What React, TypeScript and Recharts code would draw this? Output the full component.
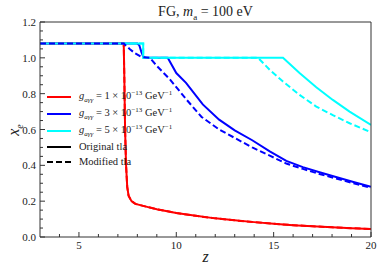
import React from "react";
import { LineChart, Line, XAxis, YAxis } from "recharts";

// values
const redZ = [3, 7.3, 7.33, 7.37, 7.42, 7.48, 7.55, 7.7, 7.9, 8.5, 9, 10, 11, 12, 13, 14, 15, 16, 17, 18, 19, 20];
const redXe = [1.08, 1.08, 0.9, 0.6, 0.4, 0.28, 0.23, 0.2, 0.185, 0.168, 0.155, 0.134, 0.118, 0.104, 0.093, 0.083, 0.074, 0.066, 0.06, 0.054, 0.049, 0.045];

const blueZ = [3, 8.0, 8.1, 8.2, 8.3, 8.45, 9.56, 10.0, 10.5, 11.36, 12.2, 13.0, 13.9, 14.8, 15.65, 16.5, 17.4, 18.2, 19.1, 20];
const blueXe = [1.08, 1.08, 1.07, 1.035, 1.008, 1.0, 1.0, 0.915, 0.86, 0.74, 0.655, 0.595, 0.54, 0.478, 0.425, 0.39, 0.36, 0.335, 0.307, 0.28];

const blueModZ = [3, 7.3, 7.62, 7.87, 8.2, 8.64, 9.0, 9.67, 10.5, 11.3, 12.2, 13.0, 13.9, 14.8, 15.65, 16.5, 17.4, 18.2, 19.1, 20];
const blueModXe = [1.08, 1.08, 1.048, 1.026, 1.005, 1.0, 0.955, 0.88, 0.77, 0.67, 0.6, 0.553, 0.5, 0.454, 0.41, 0.38, 0.35, 0.327, 0.3, 0.275];

const cyanZ = [3, 8.3, 8.3, 15.48, 16.33, 17.19, 18.04, 18.9, 20];
const cyanXe = [1.08, 1.08, 1.0, 1.0, 0.915, 0.836, 0.765, 0.7, 0.625];

const cyanModZ = [3, 8.3, 8.3, 14.2, 14.8, 15.48, 16.33, 17.19, 18.04, 18.9, 20];
const cyanModXe = [1.08, 1.08, 1.0, 1.0, 0.933, 0.868, 0.793, 0.728, 0.68, 0.635, 0.585];

const xTicks = [4, 5, 6, 7, 8, 9, 10, 11, 12, 13, 14, 15, 16, 17, 18, 19, 20];
const xMajor = [5, 10, 15, 20];
const yTicks = [0, 0.05, 0.1, 0.15, 0.2, 0.25, 0.3, 0.35, 0.4, 0.45, 0.5, 0.55, 0.6, 0.65, 0.7, 0.75, 0.8, 0.85, 0.9, 0.95, 1.0, 1.05, 1.1, 1.15, 1.2];
const yMajor = [0, 0.2, 0.4, 0.6, 0.8, 1.0, 1.2];

const legendCoupling = ["1", "3", "5"];

const toRows = (zs: number[], xs: number[]) => zs.map((z, i) => ({ z, xe: xs[i] }));

const redData = toRows(redZ, redXe);
const blueData = toRows(blueZ, blueXe);
const blueModData = toRows(blueModZ, blueModXe);
const cyanData = toRows(cyanZ, cyanXe);
const cyanModData = toRows(cyanModZ, cyanModXe);

const RED = "#ff0000";
const BLUE = "#0000ff";
const CYAN = "#00ffff";
const AX = "#333";
const FONT = "'Liberation Serif', 'DejaVu Serif', serif";

const isMajorY = (v: number) => yMajor.some((m) => Math.abs(m - v) < 1e-6);

const BottomTick = ({ x, y, payload }: any) => {
  const major = xMajor.includes(payload.value);
  return (
    <g>
      <line x1={x} x2={x} y1={y} y2={y - (major ? 5 : 3)} stroke={AX} />
      {major && (
        <text x={x} y={y + 12} textAnchor="middle" fontSize={11} fontFamily={FONT} fill="#222">
          {payload.value}
        </text>
      )}
    </g>
  );
};

const TopTick = ({ x, y, payload }: any) => {
  const major = xMajor.includes(payload.value);
  return <line x1={x} x2={x} y1={y} y2={y + (major ? 5 : 3)} stroke={AX} />;
};

const LeftTick = ({ x, y, payload }: any) => {
  const major = isMajorY(payload.value);
  return (
    <g>
      <line x1={x} x2={x + (major ? 5 : 3)} y1={y} y2={y} stroke={AX} />
      {major && (
        <text x={x - 4} y={y + 4} textAnchor="end" fontSize={11} fontFamily={FONT} fill="#222">
          {payload.value.toFixed(1)}
        </text>
      )}
    </g>
  );
};

const RightTick = ({ x, y, payload }: any) => {
  const major = isMajorY(payload.value);
  return <line x1={x} x2={x - (major ? 5 : 3)} y1={y} y2={y} stroke={AX} />;
};

const Coupling = ({ n }: { n: string }) => (
  <span>
    <i>g</i>
    <sub style={{ fontSize: 7, fontStyle: "italic" }}>aγγ</sub> = {n} × 10
    <sup style={{ fontSize: 7 }}>−13</sup> GeV<sup style={{ fontSize: 7 }}>−1</sup>
  </span>
);

const LegendRow = ({ color, dash, h, children }: any) => (
  <div style={{ display: "flex", alignItems: "center", height: h }}>
    <svg width={24} height={4} style={{ marginRight: 8 }}>
      <line x1={0} x2={24} y1={2} y2={2} stroke={color} strokeWidth={2} strokeDasharray={dash} />
    </svg>
    <span style={{ lineHeight: 1 }}>{children}</span>
  </div>
);

export default function App() {
  const legendColors = [RED, BLUE, CYAN];
  return (
    <div style={{ position: "absolute", left: 0, top: 0, width: 382, height: 273, background: "#fff" }}>
      <LineChart width={382} height={273} margin={{ top: 21, right: 10, bottom: 6, left: 0 }}>
        <XAxis dataKey="z" type="number" domain={[3, 20]} ticks={xTicks} interval={0} allowDataOverflow
          tickSize={0} tickMargin={0} height={30} tick={BottomTick} axisLine={{ stroke: AX }} tickLine={false} />
        <XAxis xAxisId="t" orientation="top" dataKey="z" type="number" domain={[3, 20]} ticks={xTicks} interval={0}
          tickSize={0} tickMargin={0} height={1} tick={TopTick} axisLine={{ stroke: AX }} tickLine={false} />
        <YAxis type="number" domain={[0, 1.2]} ticks={yTicks} interval={0} allowDataOverflow
          tickSize={0} tickMargin={0} width={40} tick={LeftTick} axisLine={{ stroke: AX }} tickLine={false} />
        <YAxis yAxisId="r" orientation="right" type="number" domain={[0, 1.2]} ticks={yTicks} interval={0}
          tickSize={0} tickMargin={0} width={1} tick={RightTick} axisLine={{ stroke: AX }} tickLine={false} />
        <Line data={redData} dataKey="xe" type="linear" stroke={RED} strokeWidth={2} dot={false} isAnimationActive={false} />
        <Line data={blueData} dataKey="xe" type="linear" stroke={BLUE} strokeWidth={2} dot={false} isAnimationActive={false} />
        <Line data={cyanData} dataKey="xe" type="linear" stroke={CYAN} strokeWidth={2} dot={false} isAnimationActive={false} />
        <Line data={redData} dataKey="xe" type="linear" stroke={RED} strokeWidth={2} strokeDasharray="6 3" dot={false} isAnimationActive={false} />
        <Line data={cyanModData} dataKey="xe" type="linear" stroke={CYAN} strokeWidth={2} strokeDasharray="6 3" dot={false} isAnimationActive={false} />
        <Line data={blueModData} dataKey="xe" type="linear" stroke={BLUE} strokeWidth={2} strokeDasharray="6 3" dot={false} isAnimationActive={false} />
      </LineChart>

      <div style={{ position: "absolute", left: 40, width: 331, top: 4, textAlign: "center", fontFamily: FONT, fontSize: 14, color: "#222" }}>
        FG, <i>m</i>
        <sub style={{ fontSize: 9 }}>a</sub> = 100 eV
      </div>
      <div style={{ position: "absolute", left: 40, width: 331, top: 248, textAlign: "center", fontFamily: FONT, fontSize: 16, fontStyle: "italic", color: "#222" }}>
        z
      </div>
      <div style={{ position: "absolute", left: 0, top: 130, width: 30, height: 20, fontFamily: FONT, fontSize: 16, color: "#222",
        transform: "translate(-1px, -10px) rotate(-90deg)", textAlign: "center", lineHeight: "20px" }}>
        <i>x</i>
        <sub style={{ fontSize: 10, fontStyle: "italic" }}>e</sub>
      </div>

      <div style={{ position: "absolute", left: 47, top: 88, fontFamily: FONT, fontSize: 10.5, color: "#222" }}>
        {legendCoupling.map((n, i) => (
          <LegendRow key={n} color={legendColors[i]} h={17}>
            <Coupling n={n} />
          </LegendRow>
        ))}
        <LegendRow color="#000" h={16}>Original tla</LegendRow>
        <LegendRow color="#000" dash="6 3" h={14}>Modified tla</LegendRow>
      </div>
    </div>
  );
}
